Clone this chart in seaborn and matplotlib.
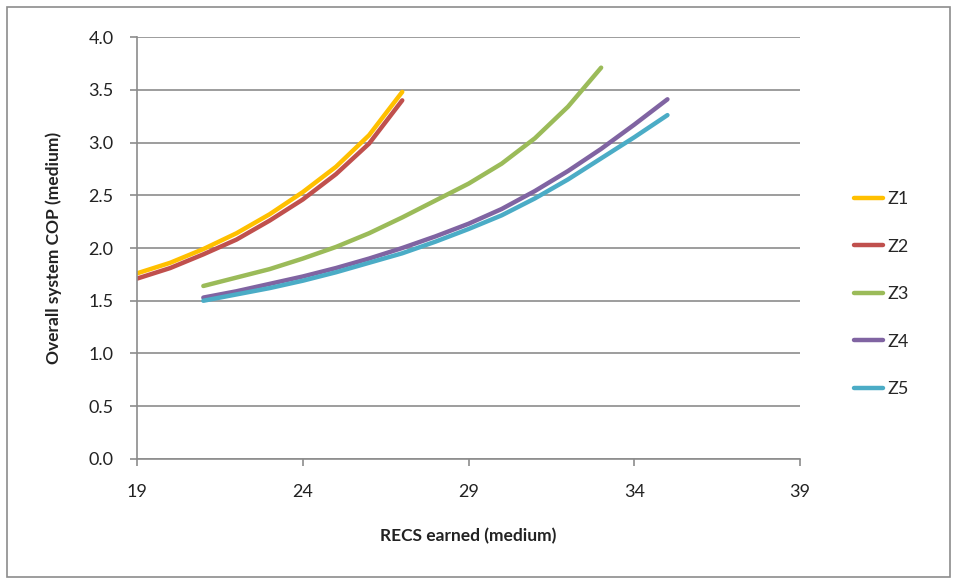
import matplotlib
matplotlib.use("Agg")
import matplotlib.pyplot as plt
import seaborn as sns
import pandas as pd
from matplotlib.patches import Rectangle
from matplotlib.ticker import FormatStrFormatter

# RECS earned (medium) for each zone curve
recs_z1 = [19, 20, 21, 22, 23, 24, 25, 26, 27]
recs_z3 = [21, 22, 23, 24, 25, 26, 27, 28, 29, 30, 31, 32, 33]
recs_z4 = [21, 22, 23, 24, 25, 26, 27, 28, 29, 30, 31, 32, 33, 34, 35]

# Overall system COP (medium)
cop_z1 = [1.76, 1.86, 1.99, 2.14, 2.32, 2.53, 2.77, 3.07, 3.48]
cop_z2 = [1.71, 1.81, 1.94, 2.08, 2.26, 2.46, 2.70, 2.99, 3.40]
cop_z3 = [1.64, 1.72, 1.80, 1.90, 2.01, 2.14, 2.29, 2.45, 2.61, 2.80, 3.04, 3.34, 3.71]
cop_z4 = [1.53, 1.59, 1.66, 1.73, 1.81, 1.90, 2.00, 2.11, 2.23, 2.37, 2.54, 2.73, 2.94, 3.17, 3.41]
cop_z5 = [1.50, 1.56, 1.62, 1.69, 1.77, 1.86, 1.95, 2.06, 2.18, 2.31, 2.47, 2.65, 2.85, 3.05, 3.26]

zones = ["Z1", "Z2", "Z3", "Z4", "Z5"]
colors = ["#FFC000", "#C0504D", "#9BBB59", "#8064A2", "#4BACC6"]

frames = []
for zone, xs, ys in zip(zones,
                        [recs_z1, recs_z1, recs_z3, recs_z4, recs_z4],
                        [cop_z1, cop_z2, cop_z3, cop_z4, cop_z5]):
    frames.append(pd.DataFrame({"RECS": xs, "COP": ys, "Zone": zone}))
df = pd.concat(frames, ignore_index=True)

sns.set_style("white")
plt.rcParams["font.family"] = ["Lato", "DejaVu Sans"]

fig = plt.figure(figsize=(9.57, 5.79), dpi=100)
ax = fig.add_axes([0.1432, 0.2073, 0.836 - 0.1432, 0.936 - 0.2073])

sns.lineplot(data=df, x="RECS", y="COP", hue="Zone", palette=colors,
             linewidth=3.2, ax=ax, legend=True, sort=True)

ax.set_xlim(19, 39)
ax.set_ylim(0, 4.0)
ax.set_xticks([19, 24, 29, 34, 39])
ax.set_yticks([0.0, 0.5, 1.0, 1.5, 2.0, 2.5, 3.0, 3.5, 4.0])
ax.yaxis.set_major_formatter(FormatStrFormatter("%.1f"))
ax.grid(axis="y", color="#8c8c8c", linewidth=1.2)
ax.grid(axis="x", visible=False)
ax.set_axisbelow(True)

for side in ["top", "right"]:
    ax.spines[side].set_visible(False)
for side in ["left", "bottom"]:
    ax.spines[side].set_color("#8c8c8c")
    ax.spines[side].set_linewidth(1.2)
ax.tick_params(axis="both", direction="out", length=5, width=1.2,
               color="#8c8c8c", labelsize=13, labelcolor="#222222",
               left=True, bottom=True)
ax.tick_params(axis="x", pad=13)
ax.tick_params(axis="y", pad=12)

ax.set_xlabel("RECS earned (medium)", fontsize=12.5, fontweight="bold",
              color="#222222", labelpad=20)
ax.set_ylabel("Overall system COP (medium)", fontsize=12.5, fontweight="bold",
              color="#222222", labelpad=19)

handles, labels = ax.get_legend_handles_labels()
ax.get_legend().remove()
fig.legend(handles, labels, loc="center left", bbox_to_anchor=(0.875, 0.492),
           frameon=False, fontsize=13, handlelength=1.6, handletextpad=0.25,
           labelspacing=1.75)

# outer chart border
fig.patches.append(Rectangle((0.007, 0.003), 0.986, 0.985, transform=fig.transFigure,
                             fill=False, edgecolor="#8c8c8c", linewidth=1.2))

fig.savefig("out.png", dpi=100)
